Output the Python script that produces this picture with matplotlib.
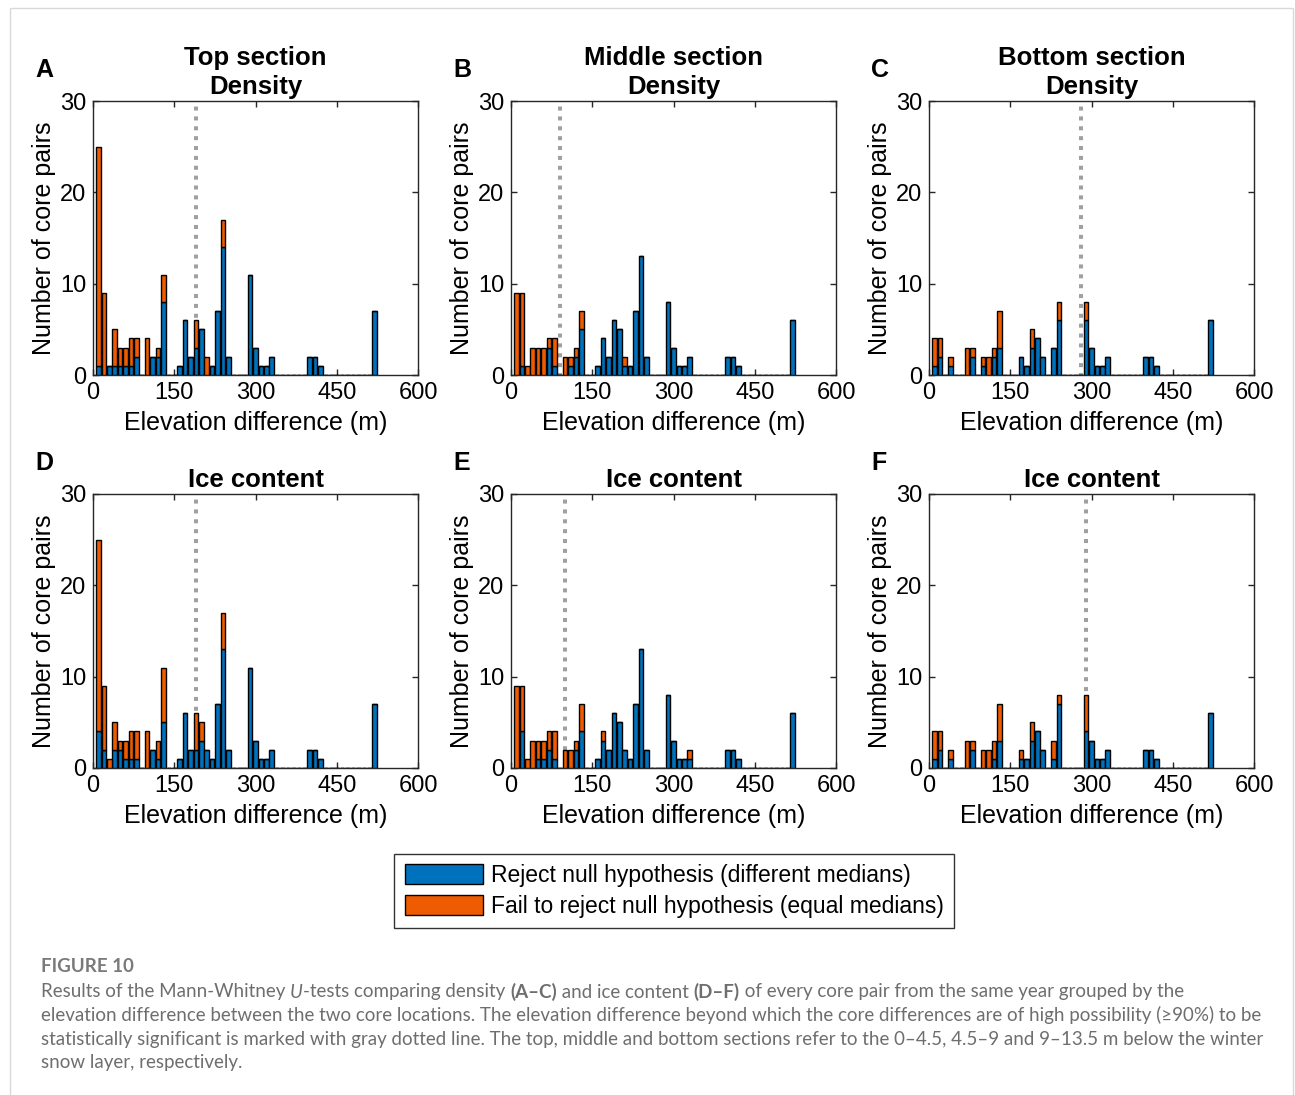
import numpy as np
import matplotlib.pyplot as plt
from matplotlib.patches import Patch, Rectangle

plt.rcParams['font.family'] = ['Liberation Sans', 'DejaVu Sans']

W, H = 1295, 1095

# bin centres (m) of the elevation-difference histogram: 10, 20, ..., 520
elev = np.arange(10, 530, 10)

# counts per bin: "reject" = blue, "fail" = orange (stacked on top)
a_rej = [1,0,1,1,1,1,1,2,0,0, 2,2,8,0,0,1,6,2,3,5, 0,1,7,14,2,0,0,0,11,3, 1,1,2,0,0,0,0,0,0,2, 2,1,0,0,0,0,0,0,0,0, 0,7]
a_fail = [24,9,0,4,2,2,3,2,0,4, 0,1,3,0,0,0,0,0,3,0, 2,0,0,3,0,0,0,0,0,0, 0,0,0,0,0,0,0,0,0,0, 0,0,0,0,0,0,0,0,0,0, 0,0]
b_rej = [0,1,0,0,0,0,3,1,0,0, 1,2,5,0,0,1,4,2,6,5, 1,1,7,13,2,0,0,0,8,3, 1,1,2,0,0,0,0,0,0,2, 2,1,0,0,0,0,0,0,0,0, 0,6]
b_fail = [9,8,1,3,3,3,1,3,0,2, 1,1,2,0,0,0,0,0,0,0, 1,0,0,0,0,0,0,0,0,0, 0,0,0,0,0,0,0,0,0,0, 0,0,0,0,0,0,0,0,0,0, 0,0]
c_rej = [1,2,0,1,0,0,0,2,0,1, 0,2,3,0,0,0,2,1,3,4, 2,0,3,6,0,0,0,0,6,3, 1,1,2,0,0,0,0,0,0,2, 2,1,0,0,0,0,0,0,0,0, 0,6]
c_fail = [3,2,0,1,0,0,3,1,0,1, 2,1,4,0,0,0,0,0,2,0, 0,0,0,2,0,0,0,0,2,0, 0,0,0,0,0,0,0,0,0,0, 0,0,0,0,0,0,0,0,0,0, 0,0]
d_rej = [4,2,0,2,2,1,1,1,0,0, 2,1,5,0,0,1,6,2,2,3, 2,1,7,13,2,0,0,0,11,3, 1,1,2,0,0,0,0,0,0,2, 2,1,0,0,0,0,0,0,0,0, 0,7]
d_fail = [21,7,1,3,1,2,3,3,0,4, 0,2,6,0,0,0,0,0,4,2, 0,0,0,4,0,0,0,0,0,0, 0,0,0,0,0,0,0,0,0,0, 0,0,0,0,0,0,0,0,0,0, 0,0]
e_rej = [0,4,0,0,1,1,2,1,0,0, 0,2,4,0,0,1,3,2,6,5, 2,1,7,13,2,0,0,0,8,3, 1,1,1,0,0,0,0,0,0,2, 2,1,0,0,0,0,0,0,0,0, 0,6]
e_fail = [9,5,1,3,2,2,2,3,0,2, 2,1,3,0,0,0,1,0,0,0, 0,0,0,0,0,0,0,0,0,0, 0,0,1,0,0,0,0,0,0,0, 0,0,0,0,0,0,0,0,0,0, 0,0]
f_rej = [1,2,0,1,0,0,0,2,0,0, 0,1,3,0,0,0,1,1,3,4, 2,0,1,7,0,0,0,0,4,3, 1,1,2,0,0,0,0,0,0,2, 2,1,0,0,0,0,0,0,0,0, 0,6]
f_fail = [3,2,0,1,0,0,3,1,0,2, 2,2,4,0,0,0,1,0,2,0, 0,0,2,1,0,0,0,0,4,0, 0,0,0,0,0,0,0,0,0,0, 0,0,0,0,0,0,0,0,0,0, 0,0]

# threshold elevation difference (gray dotted line), m
thresholds = [190, 90, 280, 190, 100, 290]
letters = ['A', 'B', 'C', 'D', 'E', 'F']
titles = ['Top section\nDensity', 'Middle section\nDensity', 'Bottom section\nDensity',
          'Ice content', 'Ice content', 'Ice content']
xticks = [0, 150, 300, 450, 600]
yticks = [0, 10, 20, 30]

rejects = [a_rej, b_rej, c_rej, d_rej, e_rej, f_rej]
fails = [a_fail, b_fail, c_fail, d_fail, e_fail, f_fail]

BLUE = '#0072BD'
ORANGE = '#EF5B00'

fig = plt.figure(figsize=(W / 100, H / 100), dpi=100)
fig.patches.append(Rectangle((10 / W, -0.01), 1283 / W, 1 - 8 / H + 0.01, transform=fig.transFigure,
                             fill=False, edgecolor='#d9d9d9', linewidth=1))

lefts = [93, 511, 929]
tops = [101, 494]
aw, ah = 325, 274

for i in range(6):
    row, col = divmod(i, 3)
    l, t = lefts[col], tops[row]
    ax = fig.add_axes([l / W, 1 - (t + ah) / H, aw / W, ah / H])
    rej = np.array(rejects[i])
    fl = np.array(fails[i])
    ax.bar(elev, rej, width=8.5, color=BLUE, edgecolor='black', linewidth=1, zorder=3)
    ax.bar(elev, fl, width=8.5, bottom=rej, color=ORANGE, edgecolor='black', linewidth=1, zorder=3)
    ax.plot([thresholds[i], thresholds[i]], [0, 30], color='#a0a0a0', linewidth=2.9,
            linestyle=(0.5, (1.0, 1.45)), solid_capstyle='butt', zorder=2)
    ax.set_xlim(0, 600)
    ax.set_ylim(0, 30)
    ax.set_xticks(xticks)
    ax.set_yticks(yticks)
    ax.tick_params(direction='in', length=4, width=1, top=True, right=True,
                   labelsize=17, pad=5, color='#262626')
    for s in ax.spines.values():
        s.set_linewidth(1)
        s.set_color('#262626')
    ax.set_xlabel('Elevation difference (m)', fontsize=18, labelpad=5)
    ax.set_ylabel('Number of core pairs', fontsize=18, labelpad=3)
    ax.set_title(titles[i], fontsize=18.5, fontweight='bold', pad=5, linespacing=1.28)
    fig.text((l - 58) / W, 1 - (t - 31) / H, letters[i], fontsize=18, fontweight='bold',
             ha='left', va='center')

handles = [Patch(facecolor=BLUE, edgecolor='black', linewidth=1),
           Patch(facecolor=ORANGE, edgecolor='black', linewidth=1)]
leg = fig.legend(handles, ['Reject null hypothesis (different medians)',
                           'Fail to reject null hypothesis (equal medians)'],
                 loc='center', bbox_to_anchor=(674 / W, 1 - 891 / H), fontsize=16.5,
                 handlelength=3.4, handleheight=0.95, handletextpad=0.35,
                 labelspacing=0.35, borderpad=0.45, borderaxespad=0, fancybox=False, framealpha=1)
leg.get_frame().set_edgecolor('#333333')
leg.get_frame().set_linewidth(1)

# caption
CAP = '#6e6e6e'
cap_font = ['Lato', 'DejaVu Sans']
fig.text(41 / W, 1 - 967 / H, 'FIGURE 10', fontsize=13.5, fontweight='bold', color='#7a7a7a',
         family=cap_font, va='center')

renderer = fig.canvas.get_renderer()


def text_width(s, **kw):
    t1 = fig.text(0, 0, s + '|', **kw)
    t2 = fig.text(0, 0, '|', **kw)
    w = t1.get_window_extent(renderer).width - t2.get_window_extent(renderer).width
    t1.remove()
    t2.remove()
    return w


def rich_line(x, y, runs):
    for s, weight, style in runs:
        kw = dict(fontsize=13.5, color=CAP, family=cap_font, fontweight=weight, fontstyle=style)
        fig.text(x / W, 1 - y / H, s, va='baseline', **kw)
        x += text_width(s, **kw)


cap_lines = [
    [('Results of the Mann-Whitney ', 'normal', 'normal'), ('U', 'normal', 'italic'),
     ('-tests comparing density ', 'normal', 'normal'), ('(A\u2013C)', 'bold', 'normal'),
     (' and ice content ', 'normal', 'normal'), ('(D\u2013F)', 'bold', 'normal'),
     (' of every core pair from the same year grouped by the', 'normal', 'normal')],
    [('elevation difference between the two core locations. The elevation difference beyond which '
      'the core differences are of high possibility (\u226590%) to be', 'normal', 'normal')],
    [('statistically significant is marked with gray dotted line. The top, middle and bottom sections '
      'refer to the 0\u20134.5, 4.5\u20139 and 9\u201313.5 m below the winter', 'normal', 'normal')],
    [('snow layer, respectively.', 'normal', 'normal')],
]
for k, runs in enumerate(cap_lines):
    rich_line(41, 997.5 + k * 23.5, runs)

fig.savefig('out.png', dpi=100)
